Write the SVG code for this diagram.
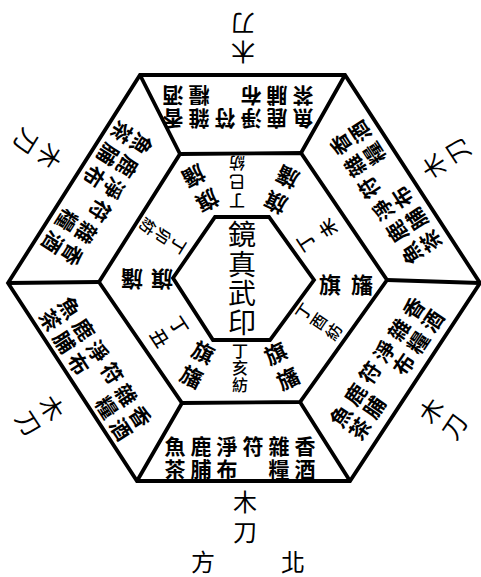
<svg xmlns="http://www.w3.org/2000/svg" width="481" height="577" viewBox="0 0 481 577">
<style>
text { font-family: "Noto Sans CJK TC", "Noto Sans CJK SC", sans-serif; text-anchor: middle; dominant-baseline: central; fill: #000; }
.s { font-size: 21px; font-weight: 700; }
.q { font-size: 22px; font-weight: 700; }
.d { font-size: 16px; font-weight: 500; }
.m { font-size: 24px; }
.c { font-size: 28px; }
.ln { fill: none; stroke: #000; stroke-width: 3.8; stroke-linejoin: miter; }
</style>
<rect width="481" height="577" fill="#fff"/>
<g id="connectors">
<polygon class="ln" points="8,283 140,75 345,75 480,283 350,481 137,481"/>
<polygon class="ln" points="99,282 180,154 301,153 387,280 300,402 182,403"/>
<polygon class="ln" points="173,278 215,217 269,217 314,280 270,340 213,340"/>
<path class="ln" d="M180,154 L140,75 M301,153 L345,75 M387,280 L480,283 M300,402 L350,481 M182,403 L137,481 M99,282 L8,283"/>
</g>
<g id="center">
<text class="c" x="242 242 242 242" y="233 263 292 321">鏡真武印</text>
</g>
<g id="sector-bottom" transform="translate(240,456.5)">
<text class="s" x="-65 -39 -13 13 39 65" y="-11.5">魚鹿淨符雜香</text>
<text class="s" x="-65 -39 -13 39 65" y="11.5">茶脯布糧酒</text>
</g>
<g id="sector-top" transform="translate(238,108.5) rotate(180)">
<text class="s" x="-65 -39 -13 13 39 65" y="-11.5">魚鹿淨符雜香</text>
<text class="s" x="-65 -39 -13 39 65" y="11.5">茶脯布糧酒</text>
</g>
<g id="sector-lower-left" transform="translate(96,368) rotate(57)">
<text class="s" x="-65 -39 -13 13 39 65" y="-11.5">魚鹿淨符雜香</text>
<text class="s" x="-65 -39 -13 39 65" y="11.5">茶脯布糧酒</text>
</g>
<g id="sector-lower-right" transform="translate(386,368) rotate(-56)">
<text class="s" x="-65 -39 -13 13 39 65" y="-11.5">魚鹿符淨雜香</text>
<text class="s" x="-65 -39 13 39 65" y="11.5">茶脯布糧酒</text>
</g>
<g id="sector-upper-left" transform="translate(98,194) rotate(122)">
<text class="s" x="-65 -39 -13 13 39 65" y="-11.5">魚鹿淨符雜香</text>
<text class="s" x="-65 -39 -13 39 65" y="11.5">茶脯布糧酒</text>
</g>
<g id="sector-upper-right" transform="translate(385,193) rotate(-123)">
<text class="s" x="-65 -39 -13 13 39 65" y="-11.5">魚鹿淨符雜香</text>
<text class="s" x="-65 -39 -13 39 65" y="11.5">茶脯布糧酒</text>
</g>
<g id="ding-top" transform="translate(237,202) rotate(180)">
<text class="d" x="0 0 0" y="0 19 38">丁巳紡</text>
</g>
<g id="ding-bottom" transform="translate(240,350)">
<text class="d" x="0 0 0" y="0 17 34">丁亥紡</text>
</g>
<g id="ding-upper-left" transform="translate(179,246) rotate(122)">
<text class="d" x="0 0 0" y="0 18 36">丁卯紡</text>
</g>
<g id="ding-upper-right" transform="translate(305,243) rotate(-123)">
<text class="d" x="0 0" y="0 26" style="font-size:18px">丁未</text>
</g>
<g id="ding-lower-right" transform="translate(303,311) rotate(-56)">
<text class="d" x="0 0 0" y="0 18 36">丁酉紡</text>
</g>
<g id="ding-lower-left" transform="translate(180,325) rotate(57)">
<text class="d" x="0 0" y="0 23" style="font-size:18px">丁丑</text>
</g>
<g id="flag-upper-left" transform="translate(208,202) rotate(151)">
<text class="q" x="0 0" y="0 28">旗旛</text>
</g>
<g id="flag-upper-right" transform="translate(275,204) rotate(-155)">
<text class="q" x="0 0" y="0 28">旗旛</text>
</g>
<g id="flag-right">
<text class="q" x="330 362" y="283">旗旛</text>
</g>
<g id="flag-left" transform="translate(162,281) rotate(180)">
<text class="q" x="0 30" y="0">旗旛</text>
</g>
<g id="flag-lower-left" transform="translate(204,351) rotate(26)">
<text class="q" x="0 0" y="0 27">旗旛</text>
</g>
<g id="flag-lower-right" transform="translate(275,352) rotate(-26)">
<text class="q" x="0 0" y="0 28">旗旛</text>
</g>
<g id="label-top" transform="translate(243,53) rotate(180)">
<text class="m" x="0 0" y="0 28">木刀</text>
</g>
<g id="label-bottom" transform="translate(245,500)">
<text class="m" x="0 0" y="0 30">木刀</text>
</g>
<g id="label-upper-left" transform="translate(51,157) rotate(122)">
<text class="m" x="0 0" y="0 28">木刀</text>
</g>
<g id="label-upper-right" transform="translate(433,167) rotate(-123)">
<text class="m" x="0 0" y="0 28">木刀</text>
</g>
<g id="label-lower-left" transform="translate(53,407) rotate(57)">
<text class="m" x="0 0" y="0 28">木刀</text>
</g>
<g id="label-lower-right" transform="translate(430,410) rotate(-56)">
<text class="m" x="0 0" y="0 28">木刀</text>
</g>
<g id="direction">
<text class="m" x="203" y="560">方</text>
<text class="m" x="293" y="560">北</text>
</g>
</svg>
